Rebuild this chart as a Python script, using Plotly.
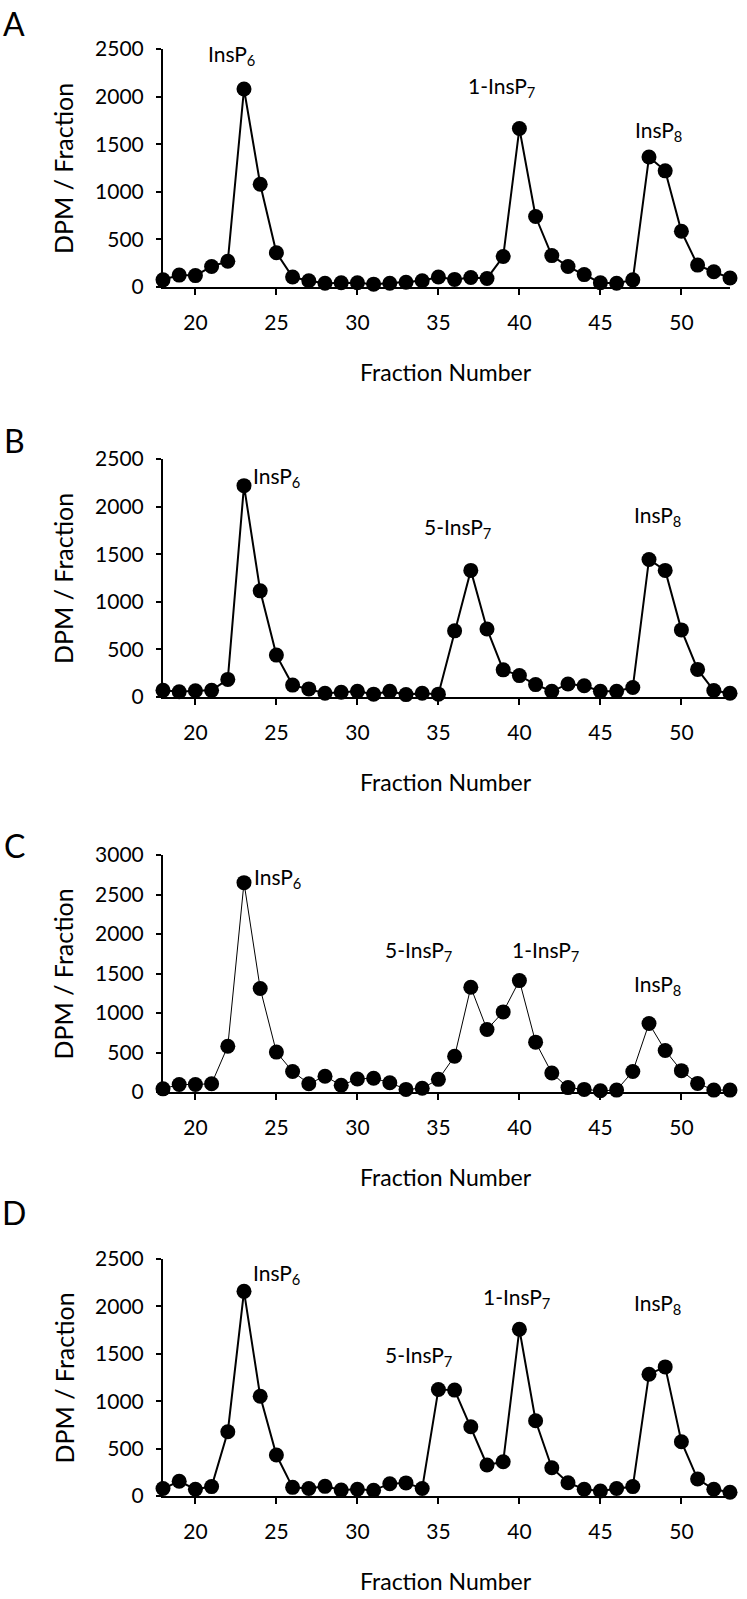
import plotly.graph_objects as go

fractions = list(range(18, 54))

dpm_a = [75, 125, 120, 215, 270, 2080, 1080, 360, 105, 65, 40, 45, 45, 30, 40, 50, 65, 105,
         80, 100, 90, 320, 1665, 740, 330, 215, 130, 45, 40, 75, 1365, 1220, 585, 230, 160, 95]
dpm_b = [70, 55, 65, 70, 185, 2220, 1115, 440, 125, 85, 40, 50, 60, 30, 60, 25, 40, 30,
         695, 1330, 715, 285, 225, 130, 60, 137, 118, 60, 60, 100, 1445, 1330, 705, 290, 68, 40]
dpm_c = [40, 95, 95, 105, 580, 2650, 1310, 505, 260, 105, 200, 85, 165, 175, 118, 33, 47, 160,
         452, 1326, 791, 1014, 1410, 631, 240, 56, 33, 15, 24, 260, 867, 526, 270, 109, 24, 24]
dpm_d = [79, 155, 71, 99, 678, 2159, 1053, 432, 91, 79, 102, 63, 71, 60, 130, 138, 79, 1124,
         1117, 730, 327, 362, 1759, 794, 298, 140, 71, 52, 79, 99, 1285, 1362, 572, 179, 71, 39]

panel_letters = ["A", "B", "C", "D"]
y_maxima = [2500, 2500, 3000, 2500]
line_widths = [2, 2, 1, 2]
series = [dpm_a, dpm_b, dpm_c, dpm_d]

# peak labels per panel: (text, x, y)
peak_labels = [
    [("InsP<sub>6</sub>", 22.2, 2440), ("1-InsP<sub>7</sub>", 38.9, 2100), ("InsP<sub>8</sub>", 48.6, 1640)],
    [("InsP<sub>6</sub>", 25.0, 2310), ("5-InsP<sub>7</sub>", 36.2, 1775), ("InsP<sub>8</sub>", 48.5, 1900)],
    [("InsP<sub>6</sub>", 25.05, 2710), ("5-InsP<sub>7</sub>", 33.8, 1785), ("1-InsP<sub>7</sub>", 41.6, 1785),
     ("InsP<sub>8</sub>", 48.5, 1355)],
    [("InsP<sub>6</sub>", 25.0, 2340), ("5-InsP<sub>7</sub>", 33.8, 1480), ("1-InsP<sub>7</sub>", 39.8, 2090),
     ("InsP<sub>8</sub>", 48.5, 2030)],
]

W, H = 747, 1599
FONT = "Lato"
# panel pixel geometry (top, bottom of plot area)
panel_px = [(49, 287), (459, 697), (855, 1092), (1259, 1496)]
letter_px = [24, 440, 845, 1212]
x_left, x_right = 163, 730

fig = go.Figure()
annotations = []
for i in range(4):
    top, bot = panel_px[i]
    xa = "x" if i == 0 else f"x{i+1}"
    ya = "y" if i == 0 else f"y{i+1}"
    fig.add_trace(go.Scatter(
        x=fractions, y=series[i], mode="lines+markers",
        line=dict(color="black", width=line_widths[i]),
        marker=dict(color="black", size=15, line=dict(width=0)),
        xaxis=xa, yaxis=ya, cliponaxis=False, showlegend=False))
    axis_common = dict(showgrid=False, zeroline=False, showline=True, linecolor="black",
                       linewidth=2, ticks="outside", tickcolor="black", tickwidth=1.5,
                       automargin=False,
                       tickfont=dict(family=FONT, size=21, color="black"))
    fig.update_layout(**{
        ("xaxis" if i == 0 else f"xaxis{i+1}"): dict(
            domain=[x_left / W, x_right / W], range=[18, 53], tick0=20, dtick=5,
            ticklen=6, anchor=ya, ticklabelstandoff=10, **axis_common),
        ("yaxis" if i == 0 else f"yaxis{i+1}"): dict(
            domain=[1 - bot / H, 1 - top / H], range=[0, y_maxima[i]], dtick=500,
            ticklen=5, anchor=xa, ticklabelstandoff=8, **axis_common),
    })
    for text, lx, ly in peak_labels[i]:
        annotations.append(dict(text=text, x=lx, y=ly, xref=xa, yref=ya, showarrow=False,
                                xanchor="center", yanchor="middle",
                                font=dict(family=FONT, size=21, color="black")))
    annotations.append(dict(text=panel_letters[i], x=14 / W, y=1 - letter_px[i] / H,
                            xref="paper", yref="paper", showarrow=False,
                            xanchor="center", yanchor="middle",
                            font=dict(family=FONT, size=32, color="black")))
    annotations.append(dict(text="DPM / Fraction", x=63 / W, y=1 - (top + bot) / 2 / H,
                            xref="paper", yref="paper", showarrow=False, textangle=-90,
                            xanchor="center", yanchor="middle",
                            font=dict(family=FONT, size=25, color="black")))
    annotations.append(dict(text="Fraction Number", x=446 / W, y=1 - (bot + 85) / H,
                            xref="paper", yref="paper", showarrow=False,
                            xanchor="center", yanchor="middle",
                            font=dict(family=FONT, size=23, color="black")))

fig.update_layout(width=W, height=H, margin=dict(l=0, r=0, t=0, b=0, autoexpand=False),
                  paper_bgcolor="white", plot_bgcolor="white",
                  annotations=annotations)
fig.write_html("out.html", config={"displayModeBar": False},
               post_script="document.body.style.margin='0';document.body.style.overflow='hidden';")
